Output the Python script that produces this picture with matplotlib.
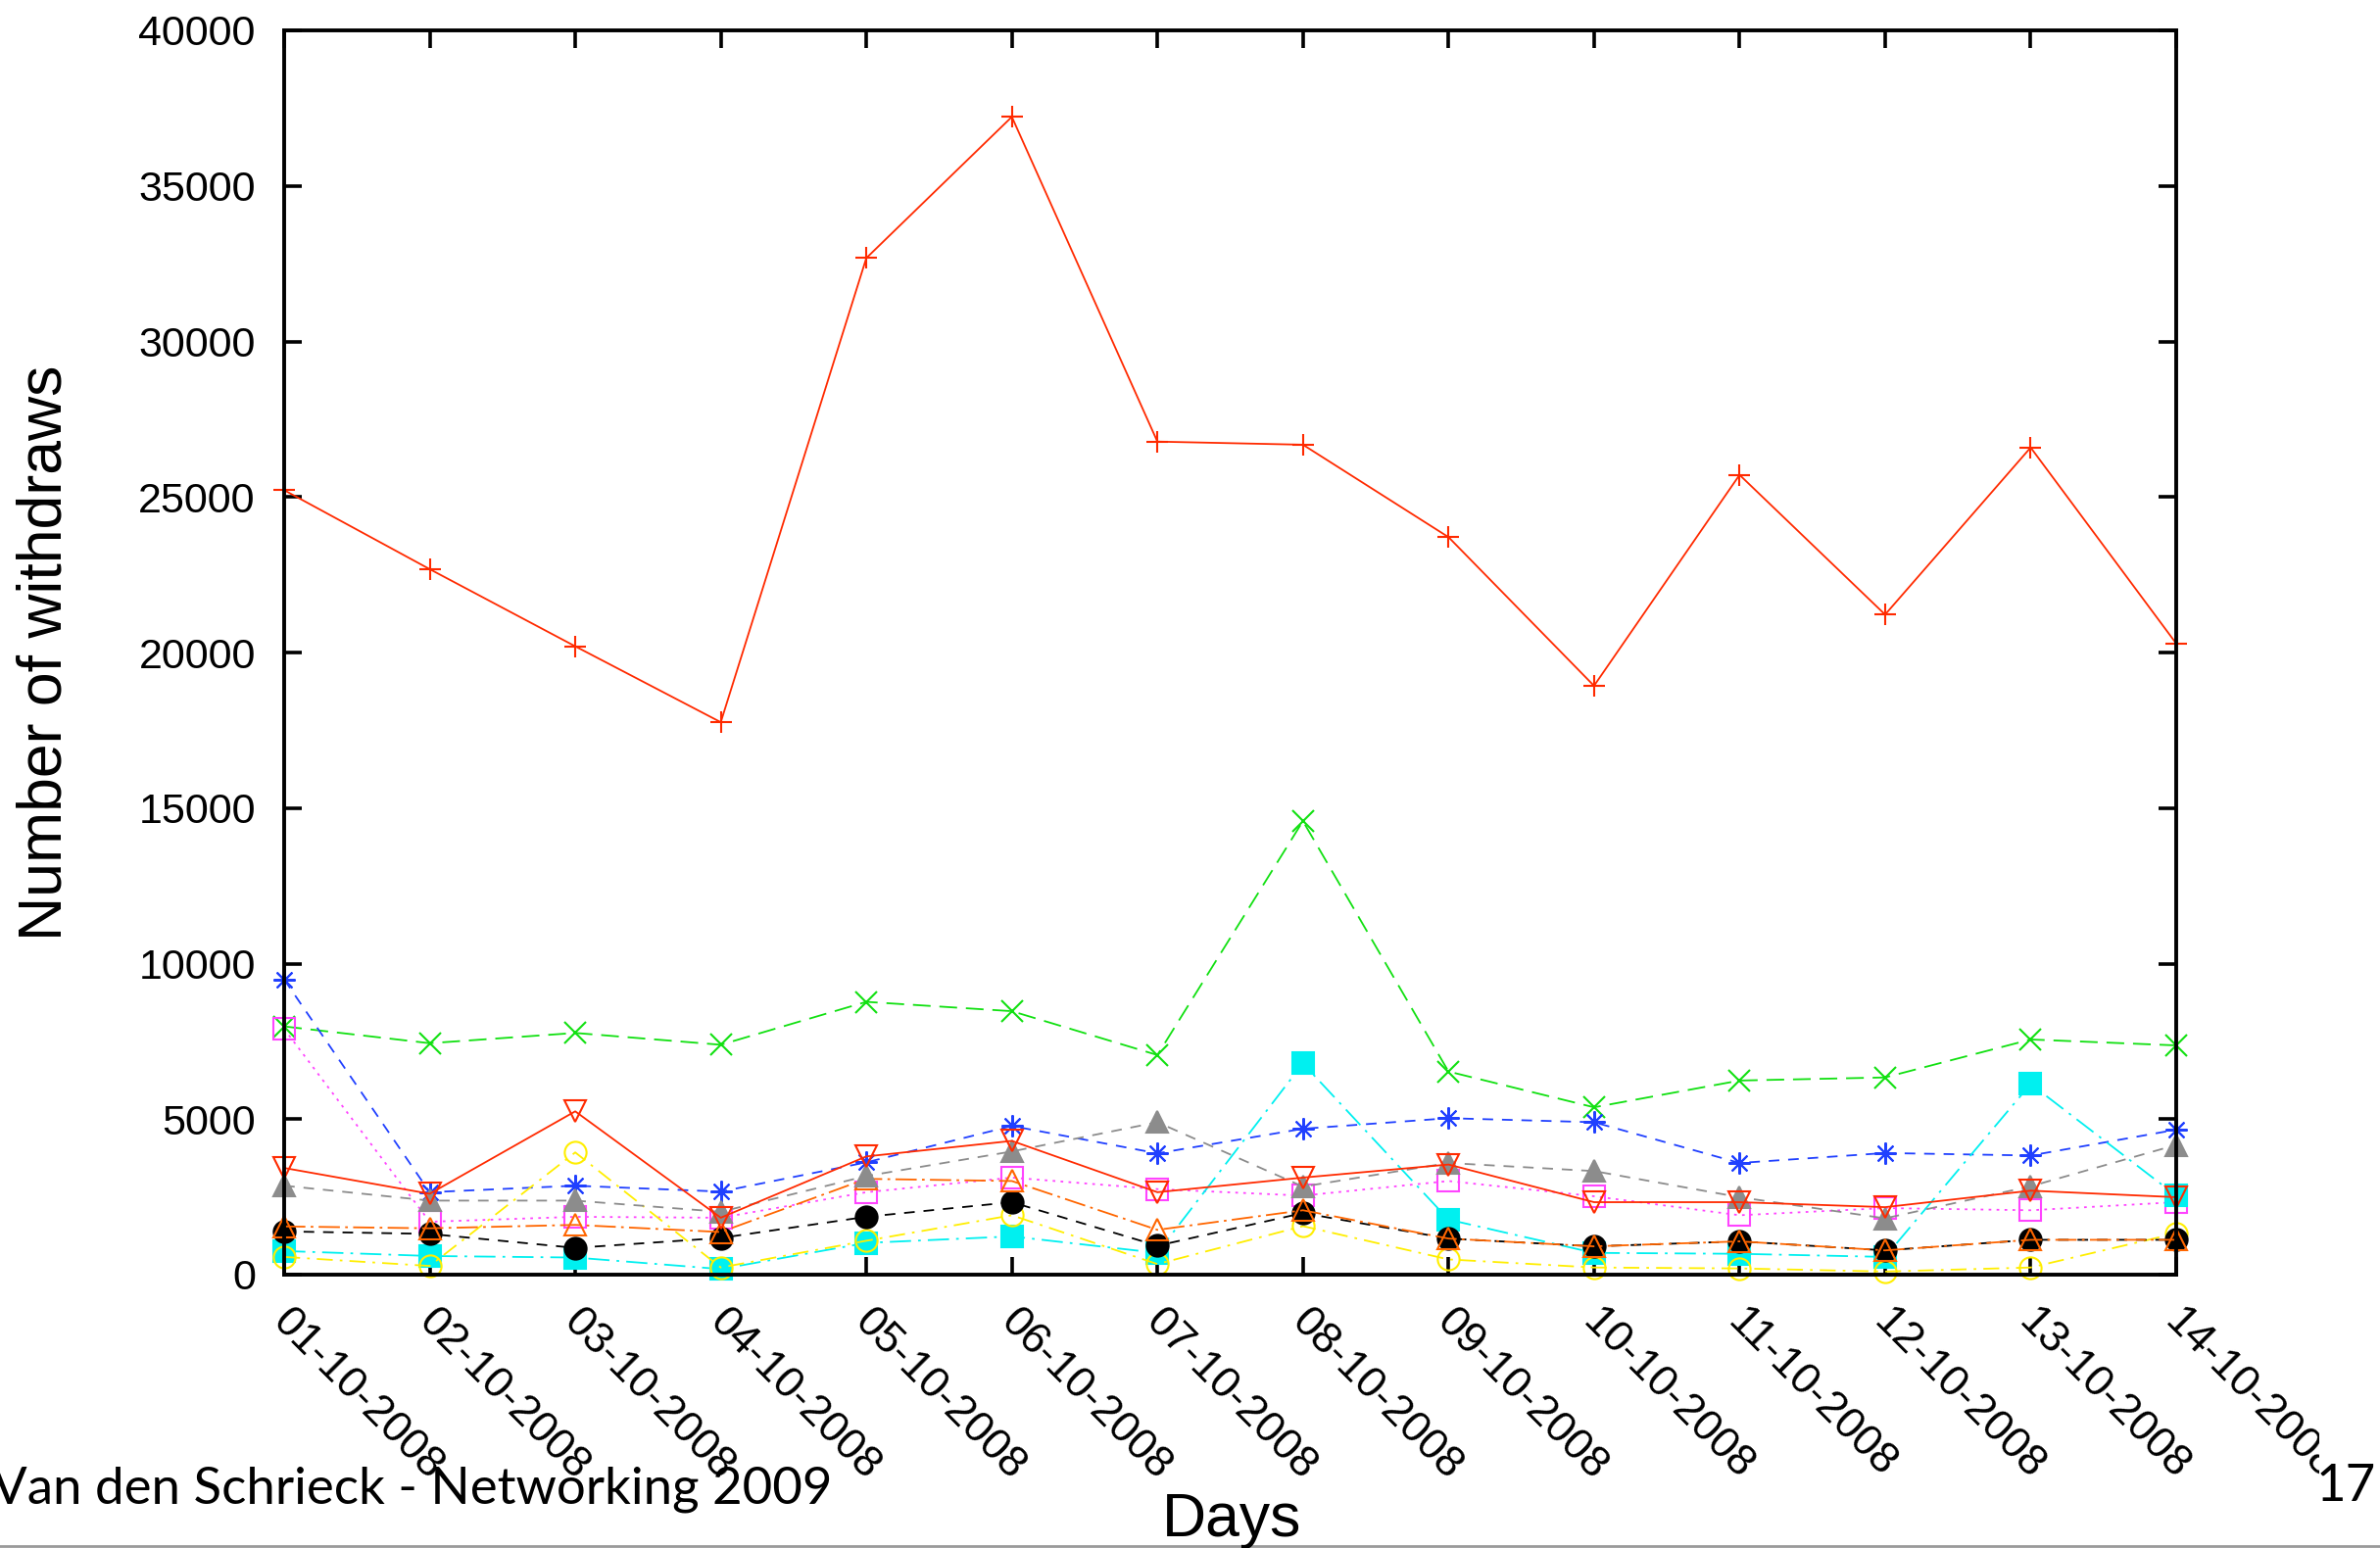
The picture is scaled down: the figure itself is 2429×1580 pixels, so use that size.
import matplotlib
matplotlib.use('Agg')
import matplotlib.pyplot as plt
from matplotlib.lines import Line2D
from matplotlib.transforms import Bbox, TransformedBbox, ScaledTranslation

# data (withdraws per day, one list per series)
days = ['01-10-2008', '02-10-2008', '03-10-2008', '04-10-2008', '05-10-2008',
        '06-10-2008', '07-10-2008', '08-10-2008', '09-10-2008', '10-10-2008',
        '11-10-2008', '12-10-2008', '13-10-2008', '14-10-2008']

red_plus = [25220, 22680, 20200, 17760, 32680, 37220, 26780, 26680, 23710, 18930, 25710, 21220, 26590, 20290]
green_x = [7980, 7440, 7770, 7390, 8770, 8470, 7060, 14580, 6530, 5380, 6240, 6340, 7560, 7370]
blue_star = [9490, 2650, 2860, 2670, 3610, 4780, 3900, 4690, 5030, 4900, 3590, 3910, 3830, 4660]
magenta_sq = [7900, 1700, 1860, 1830, 2650, 3120, 2750, 2540, 3010, 2520, 1910, 2140, 2070, 2330]
cyan_sq = [760, 600, 550, 180, 1020, 1230, 700, 6790, 1770, 700, 670, 570, 6130, 2540]
yellow_o = [570, 280, 3930, 230, 1090, 1910, 340, 1560, 490, 230, 200, 100, 230, 1330]
black_o = [1390, 1310, 860, 1180, 1860, 2330, 930, 1980, 1160, 910, 1070, 780, 1120, 1120]
orange_tri = [1550, 1490, 1600, 1370, 3080, 3010, 1440, 2070, 1160, 910, 1070, 780, 1120, 1120]
gray_tri = [2860, 2380, 2380, 2020, 3170, 3960, 4900, 2830, 3590, 3330, 2490, 1810, 2840, 4170]
red_tri = [3430, 2600, 5250, 1830, 3800, 4300, 2650, 3120, 3540, 2330, 2330, 2170, 2700, 2490]

W, H = 2429, 1580
fig = plt.figure(figsize=(W / 100, H / 100), dpi=100)
ax = fig.add_axes([290 / W, 1 - 1301 / H, (2221 - 290) / W, (1301 - 31) / H])

x = list(range(len(days)))
lw = 1.3
ms = 16
series = [
    (red_plus, '#ff2a00', '+', 'solid', True),
    (green_x, '#11e011', 'x', (0, (10, 5)), True),
    (blue_star, '#2040ff', (8, 2, 0), (0, (6, 5)), True),
    (magenta_sq, '#ff44ff', 's', (0, (1.5, 3)), False),
    (cyan_sq, '#00f0f0', 's', (0, (12, 4, 1.5, 4)), True),
    (yellow_o, '#ffee00', 'o', (0, (9, 4, 1.5, 4)), False),
    (black_o, '#000000', 'o', (0, (6, 5)), True),
    (orange_tri, '#ff6600', '^', (0, (12, 3, 1.5, 3)), False),
    (gray_tri, '#8c8c8c', '^', (0, (6, 5)), True),
    (red_tri, '#ff2a00', 'v', 'solid', False),
]
for vals, col, mk, ls, filled in series:
    ax.plot(x, vals, color=col, linestyle=ls, linewidth=lw, marker=mk, markersize=ms,
            markerfacecolor=col if filled else 'none', markeredgecolor=col,
            markeredgewidth=1.5, clip_on=False)

ax.set_xlim(0, len(days) - 1)
ax.set_ylim(0, 40000)
ax.set_yticks(range(0, 40001, 5000))
ax.set_yticklabels([str(v) for v in range(0, 40001, 5000)])
ax.set_xticks(x)
ax.set_xticklabels(days, rotation=-45, ha='left', va='top', rotation_mode='anchor')

for sp in ax.spines.values():
    sp.set_linewidth(2.8)
ax.tick_params(direction='in', length=13, width=2.6, top=True, right=True,
               labelsize=31)
ax.tick_params(axis='y', pad=21)
ax.tick_params(axis='x', pad=14, labelsize=32)
for lbl in ax.get_xticklabels() + ax.get_yticklabels():
    lbl.set_fontfamily('Liberation Sans')

# nudge the date labels, and clip them where the slide crop cuts the last one
shift = ScaledTranslation(9 / 100, -8 / 100, fig.dpi_scale_trans)
clip = TransformedBbox(Bbox([[0, 0], [2367 / W, 1]]), fig.transFigure)
for lbl in ax.get_xticklabels():
    lbl.set_transform(lbl.get_transform() + shift)
    lbl.set_clip_box(clip)
    lbl.set_clip_on(True)

fig.text(46 / W, 1 - 666 / H, 'Number of withdraws', rotation=90, ha='center', va='center',
         fontsize=45, family='Liberation Sans')
fig.text(1257 / W, 1 - 1568 / H, 'Days', ha='center', va='baseline',
         fontsize=45, family='Liberation Sans')

# slide footer
fig.text(849 / W, 1 - 1535 / H, 'Van den Schrieck - Networking 2009', ha='right', va='baseline',
         fontsize=38, family='Lato')
fig.text(2364 / W, 1 - 1532 / H, '17', ha='left', va='baseline', fontsize=38, family='Lato')
fig.add_artist(Line2D([0, 1], [1 - 1578 / H] * 2, transform=fig.transFigure,
                      color='#9a9a9a', linewidth=2))

fig.savefig('out.png', dpi=100)
